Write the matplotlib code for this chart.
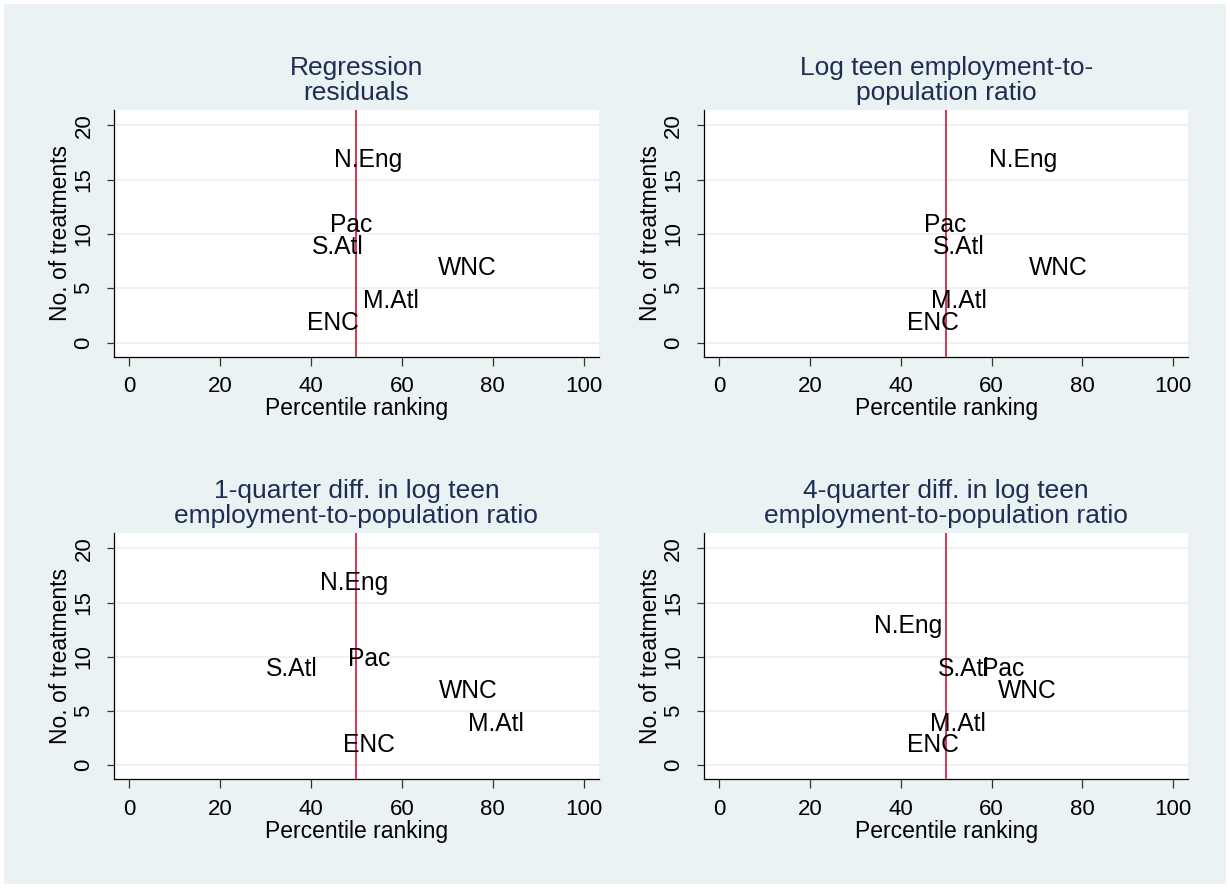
import matplotlib
matplotlib.use("Agg")
import matplotlib.pyplot as plt
from matplotlib.patches import Rectangle

# ---------------- data ----------------
regions = ["N.Eng", "M.Atl", "ENC", "WNC", "S.Atl", "Pac"]

titles = [
    "Regression\nresiduals",
    "Log teen employment-to-\npopulation ratio",
    "1-quarter diff. in log teen\nemployment-to-population ratio",
    "4-quarter diff. in log teen\nemployment-to-population ratio",
]

# percentile ranking (x) per panel
rank_resid = [43.8, 50.3, 37.8, 66.8, 38.9, 42.9]
rank_level = [58.1, 45.4, 40.1, 67.0, 45.9, 44.0]
rank_diff1 = [40.8, 73.3, 45.8, 66.9, 28.9, 46.9]
rank_diff4 = [32.9, 45.3, 40.1, 60.1, 46.9, 56.6]

# number of treatments (y) per panel
treat_resid = [17, 4, 2, 7, 9, 11]
treat_level = [17, 4, 2, 7, 9, 11]
treat_diff1 = [17, 4, 2, 7, 9, 10]
treat_diff4 = [13, 4, 2, 7, 9, 9]

ranks = [rank_resid, rank_level, rank_diff1, rank_diff4]
treats = [treat_resid, treat_level, treat_diff1, treat_diff4]

x_ticks = [0, 20, 40, 60, 80, 100]
y_ticks = [0, 5, 10, 15, 20]
ref_line = 50

# ---------------- style ----------------
plt.rcParams["font.family"] = ["Liberation Sans", "DejaVu Sans"]
BG = "#EAF2F3"
TITLE_C = "#1E2D52"
RED = "#D3123A"
W, H = 1230, 888

fig = plt.figure(figsize=(W / 100, H / 100), dpi=100)
fig.patch.set_facecolor("white")
fig.patches.append(Rectangle((4 / W, 4 / H), 1222 / W, 880 / H,
                             transform=fig.transFigure, facecolor=BG,
                             edgecolor="none", zorder=-10))

# axes boxes in pixels: (left, right, top, bottom)
boxes = [
    (114.3, 598.5, 110.0, 356.7),
    (704.0, 1188.3, 110.0, 356.7),
    (114.3, 598.5, 533.3, 779.3),
    (704.0, 1188.3, 533.3, 779.3),
]

label_fs = 17.7
for i, (l, r, t, b) in enumerate(boxes):
    ax = fig.add_axes([l / W, 1 - b / H, (r - l) / W, (b - t) / H])
    ax.set_facecolor("white")
    ax.set_xlim(-3.3, 103.3)
    ax.set_ylim(-1.3, 21.4)
    for s in ["top", "right"]:
        ax.spines[s].set_visible(False)
    for s in ["left", "bottom"]:
        ax.spines[s].set_linewidth(0.9)
        ax.spines[s].set_color("black")
    ax.set_xticks(x_ticks)
    ax.set_yticks(y_ticks)
    ax.tick_params(axis="both", width=0.9, labelsize=16, color="#333333")
    ax.tick_params(axis="x", length=6.7, pad=7.5)
    ax.tick_params(axis="y", length=5.3, pad=9.0, labelrotation=90)
    for lab in ax.get_yticklabels():
        lab.set_va("center")
    ax.yaxis.grid(True, color=BG, linewidth=1.3)
    ax.set_axisbelow(True)
    ax.set_xlabel("Percentile ranking", fontsize=16.5, labelpad=0)
    ax.set_ylabel("No. of treatments", fontsize=16.5, labelpad=1.0)

    ax.axvline(ref_line, color=RED, linewidth=1.2, zorder=3)

    for name, xv, yv in zip(regions, ranks[i], treats[i]):
        ax.annotate(name, xy=(xv, yv), xytext=(4, -0.358 * label_fs),
                    textcoords="offset points", ha="left", va="baseline",
                    fontsize=label_fs, color="black", zorder=4)

    ax.annotate(titles[i], xy=(0.5, 1.0), xycoords="axes fraction",
                xytext=(0, 3.5), textcoords="offset points",
                ha="center", va="bottom", fontsize=19, color=TITLE_C,
                linespacing=1.08, multialignment="center")

fig.savefig("out.png", dpi=100, facecolor=fig.get_facecolor())
